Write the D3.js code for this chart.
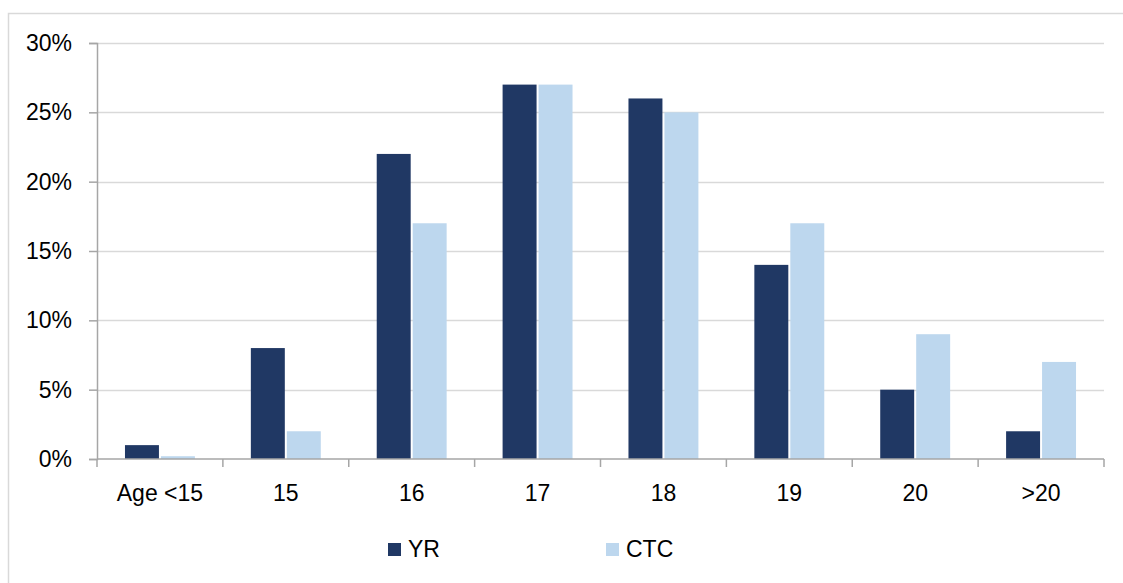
<!DOCTYPE html>
<html>
<head>
<meta charset="utf-8">
<script src="https://cdn.jsdelivr.net/npm/d3@7"></script>
<style>
  html, body { margin: 0; padding: 0; background: #fff; }
  svg { display: block; }
  text { font-family: "Liberation Sans", Arial, sans-serif; fill: #000; }
</style>
</head>
<body>
<svg id="chart" width="1123" height="583"></svg>
<script>
// Age distribution by group (percent of each group)
const categories = ["Age <15", "15", "16", "17", "18", "19", "20", ">20"];
const seriesNames = ["YR", "CTC"];
const yrValues  = [1, 8, 22, 27, 26, 14, 5, 2];
const ctcValues = [0.2, 2, 17, 27, 25, 17, 9, 7];
const yTicks = [0, 5, 10, 15, 20, 25, 30];
const colors = ["#203864", "#BDD7EE"];

const svg = d3.select("#chart");
const W = 1123, H = 583;
const plot = { left: 97, right: 1104, top: 43, bottom: 459 };
const fontSize = "23px";

// outer chart frame
svg.append("rect")
  .attr("x", 8.5).attr("y", 13.5)
  .attr("width", W + 20).attr("height", H + 20)
  .attr("fill", "none").attr("stroke", "#D9D9D9").attr("stroke-width", 1.5);

const x0 = d3.scaleBand().domain(categories).range([plot.left, plot.right]).padding(0);
const x1 = d3.scaleBand().domain(seriesNames).range([0, x0.bandwidth()])
  .paddingInner(0).paddingOuter(0.75);
const y = d3.scaleLinear().domain([0, 30]).range([plot.bottom, plot.top]);

// gridlines
svg.append("g").selectAll("line").data(yTicks.filter(t => t > 0)).join("line")
  .attr("x1", plot.left).attr("x2", plot.right)
  .attr("y1", d => Math.round(y(d)) + 0.5).attr("y2", d => Math.round(y(d)) + 0.5)
  .attr("stroke", "#D9D9D9").attr("stroke-width", 1.5);

// bars
const rows = categories.map((c, i) => ({ cat: c, vals: [yrValues[i], ctcValues[i]] }));
const groups = svg.append("g").selectAll("g").data(rows).join("g")
  .attr("transform", d => `translate(${x0(d.cat)},0)`);
groups.selectAll("rect").data(d => d.vals.map((v, j) => ({ s: seriesNames[j], v, j }))).join("rect")
  .attr("x", d => x1(d.s) + 1)
  .attr("width", x1.bandwidth() - 2)
  .attr("y", d => y(d.v))
  .attr("height", d => y(0) - y(d.v))
  .attr("fill", d => colors[d.j]);

// y axis
const yAxis = d3.axisLeft(y).tickValues(yTicks).tickFormat(d => d + "%").tickSize(8).tickPadding(17);
const gy = svg.append("g").attr("transform", `translate(${plot.left},0)`).call(yAxis);
gy.select(".domain").attr("stroke", "#A6A6A6").attr("stroke-width", 1.5);
gy.selectAll(".tick line").attr("stroke", "#A6A6A6").attr("stroke-width", 1.5);
gy.selectAll(".tick text").attr("font-size", fontSize).attr("font-family", "Liberation Sans, Arial, sans-serif").attr("fill", "#000");

// x axis: baseline plus ticks at category boundaries
svg.append("line")
  .attr("x1", plot.left).attr("x2", plot.right)
  .attr("y1", plot.bottom).attr("y2", plot.bottom)
  .attr("stroke", "#A6A6A6").attr("stroke-width", 1.5);
const bounds = categories.map(c => x0(c)).concat([plot.right]);
svg.append("g").selectAll("line").data(bounds).join("line")
  .attr("x1", d => d).attr("x2", d => d)
  .attr("y1", plot.bottom).attr("y2", plot.bottom + 8)
  .attr("stroke", "#A6A6A6").attr("stroke-width", 1.5);
svg.append("g").selectAll("text").data(categories).join("text")
  .attr("x", d => x0(d) + x0.bandwidth() / 2)
  .attr("y", 501)
  .attr("text-anchor", "middle")
  .attr("font-size", fontSize)
  .text(d => d);

// legend
const legendX = [388, 606];
const legend = svg.append("g").selectAll("g").data(seriesNames).join("g")
  .attr("transform", (d, i) => `translate(${legendX[i]},543)`);
legend.append("rect").attr("width", 13).attr("height", 13).attr("fill", (d, i) => colors[i]);
legend.append("text").attr("x", 20).attr("y", 14).attr("font-size", fontSize).text(d => d);
</script>
</body>
</html>
